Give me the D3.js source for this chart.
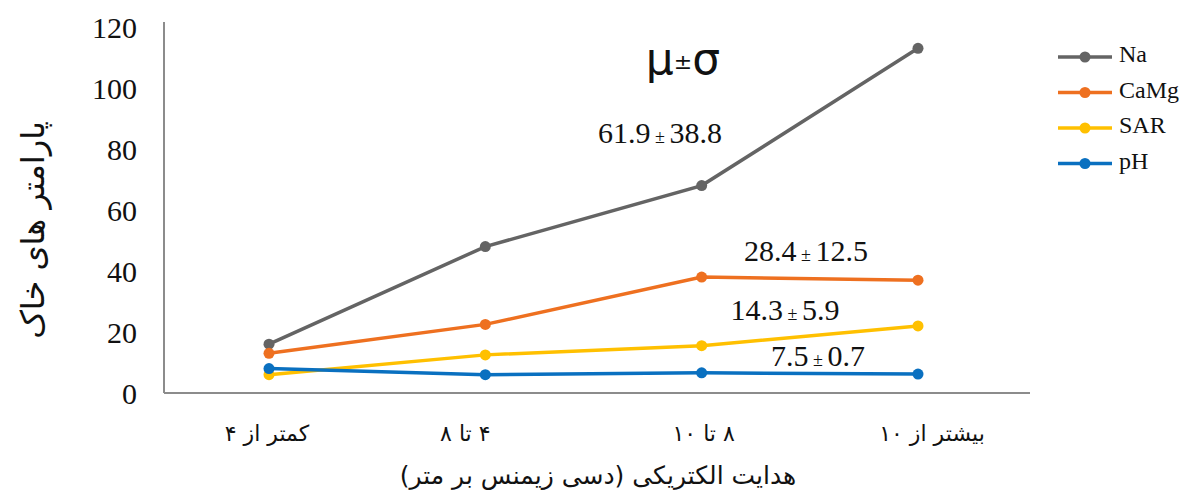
<!DOCTYPE html>
<html><head><meta charset="utf-8">
<script src="https://cdn.jsdelivr.net/npm/d3@7"></script>
<style>body{margin:0;background:#fff}svg{display:block}</style>
</head><body>
<svg id="c" width="1184" height="497"></svg>
<script>
const categories = ["کمتر از ۴", "۴ تا ۸", "۸ تا ۱۰", "بیشتر از ۱۰"];
const seriesNames = ["Na", "CaMg", "SAR", "pH"];
const naValues = [16, 48, 68, 113];
const caMgValues = [13, 22.5, 38, 37];
const sarValues = [6, 12.5, 15.5, 22];
const phValues = [8, 6, 6.6, 6.2];
const yTicks = [0, 20, 40, 60, 80, 100, 120];
const annotations = [
  {series: "Na", mean: "61.9", sd: "38.8"},
  {series: "CaMg", mean: "28.4", sd: "12.5"},
  {series: "SAR", mean: "14.3", sd: "5.9"},
  {series: "pH", mean: "7.5", sd: "0.7"}
];
const yTitle = "پارامتر های خاک";
const xTitle = "هدایت الکتریکی (دسی زیمنس بر متر)";

const colors = {Na: "#646464", CaMg: "#EE7020", SAR: "#FFC000", pH: "#0A70C0"};
const values = {Na: naValues, CaMg: caMgValues, SAR: sarValues, pH: phValues};
const annPos = {Na: [660, 143], CaMg: [806, 261], SAR: [785, 320], pH: [818, 366]};
const xLabelNudge = [-2, -20, 2, 14];

const svg = d3.select("#c");
const m = {l: 164, r: 1030, t: 27, b: 393};
const x = d3.scalePoint().domain(categories).range([269, 918]);
const y = d3.scaleLinear().domain([0, 120]).range([m.b, m.t]);

svg.append("line").attr("x1", m.l).attr("x2", m.l).attr("y1", 22).attr("y2", m.b)
  .attr("stroke", "#8c8c8c").attr("stroke-width", 2);
svg.append("line").attr("x1", m.l).attr("x2", m.r).attr("y1", m.b).attr("y2", m.b)
  .attr("stroke", "#8c8c8c").attr("stroke-width", 2);

const serif = "'Liberation Serif','Times New Roman',serif";
const fa = "'DejaVu Sans','Noto Sans',sans-serif";

svg.selectAll(".yt").data(yTicks).enter().append("text")
  .attr("x", 137).attr("y", d => y(d)).attr("dy", "0.35em")
  .attr("text-anchor", "end").attr("font-family", serif).attr("font-size", 30)
  .attr("fill", "#111").text(d => d);

svg.selectAll(".xt").data(categories).enter().append("text")
  .attr("x", (d, i) => x(d) + xLabelNudge[i]).attr("y", 441).attr("text-anchor", "middle")
  .attr("direction", "rtl")
  .attr("font-family", fa).attr("font-size", 22).attr("fill", "#111").text(d => d);

svg.append("text").attr("x", 598).attr("y", 484).attr("text-anchor", "middle")
  .attr("direction", "rtl")
  .attr("font-family", fa).attr("font-size", 25).attr("fill", "#111").text(xTitle);
svg.append("text").attr("transform", "translate(44,230) rotate(-90)")
  .attr("text-anchor", "middle").attr("direction", "rtl")
  .attr("font-family", fa).attr("font-size", 32).attr("fill", "#111").text(yTitle);

const line = d3.line().x((d, i) => x(categories[i])).y(d => y(d));
seriesNames.forEach(s => {
  const g = svg.append("g");
  g.append("path").datum(values[s]).attr("d", line).attr("fill", "none")
    .attr("stroke", colors[s]).attr("stroke-width", 3.5);
  g.selectAll("circle").data(values[s]).enter().append("circle")
    .attr("cx", (d, i) => x(categories[i])).attr("cy", d => y(d)).attr("r", 5.5)
    .attr("fill", colors[s]);
});

svg.append("text").attr("x", 683).attr("y", 74).attr("text-anchor", "middle")
  .attr("font-family", fa).attr("font-size", 44).attr("fill", "#111")
  .call(t => { t.append("tspan").text("μ"); t.append("tspan").attr("font-size", 22).attr("dy", -5).text("±"); t.append("tspan").attr("dy", 5).text("σ"); });
annotations.forEach(a => {
  const p = annPos[a.series];
  const t = svg.append("text").attr("x", p[0]).attr("y", p[1]).attr("text-anchor", "middle")
    .attr("font-family", serif).attr("font-size", 30).attr("fill", "#111");
  t.append("tspan").text(a.mean);
  t.append("tspan").attr("font-size", 18).text(" ± ");
  t.append("tspan").text(a.sd);
});

const lg = svg.append("g");
seriesNames.forEach((s, i) => {
  const yy = 57 + i * 35.5;
  lg.append("line").attr("x1", 1058).attr("x2", 1112).attr("y1", yy).attr("y2", yy)
    .attr("stroke", colors[s]).attr("stroke-width", 3.5);
  lg.append("circle").attr("cx", 1085).attr("cy", yy).attr("r", 5.5).attr("fill", colors[s]);
  lg.append("text").attr("x", 1119).attr("y", yy - 3).attr("dy", "0.35em")
    .attr("font-family", serif).attr("font-size", 24).attr("fill", "#111").text(s);
});
</script>
</body></html>
